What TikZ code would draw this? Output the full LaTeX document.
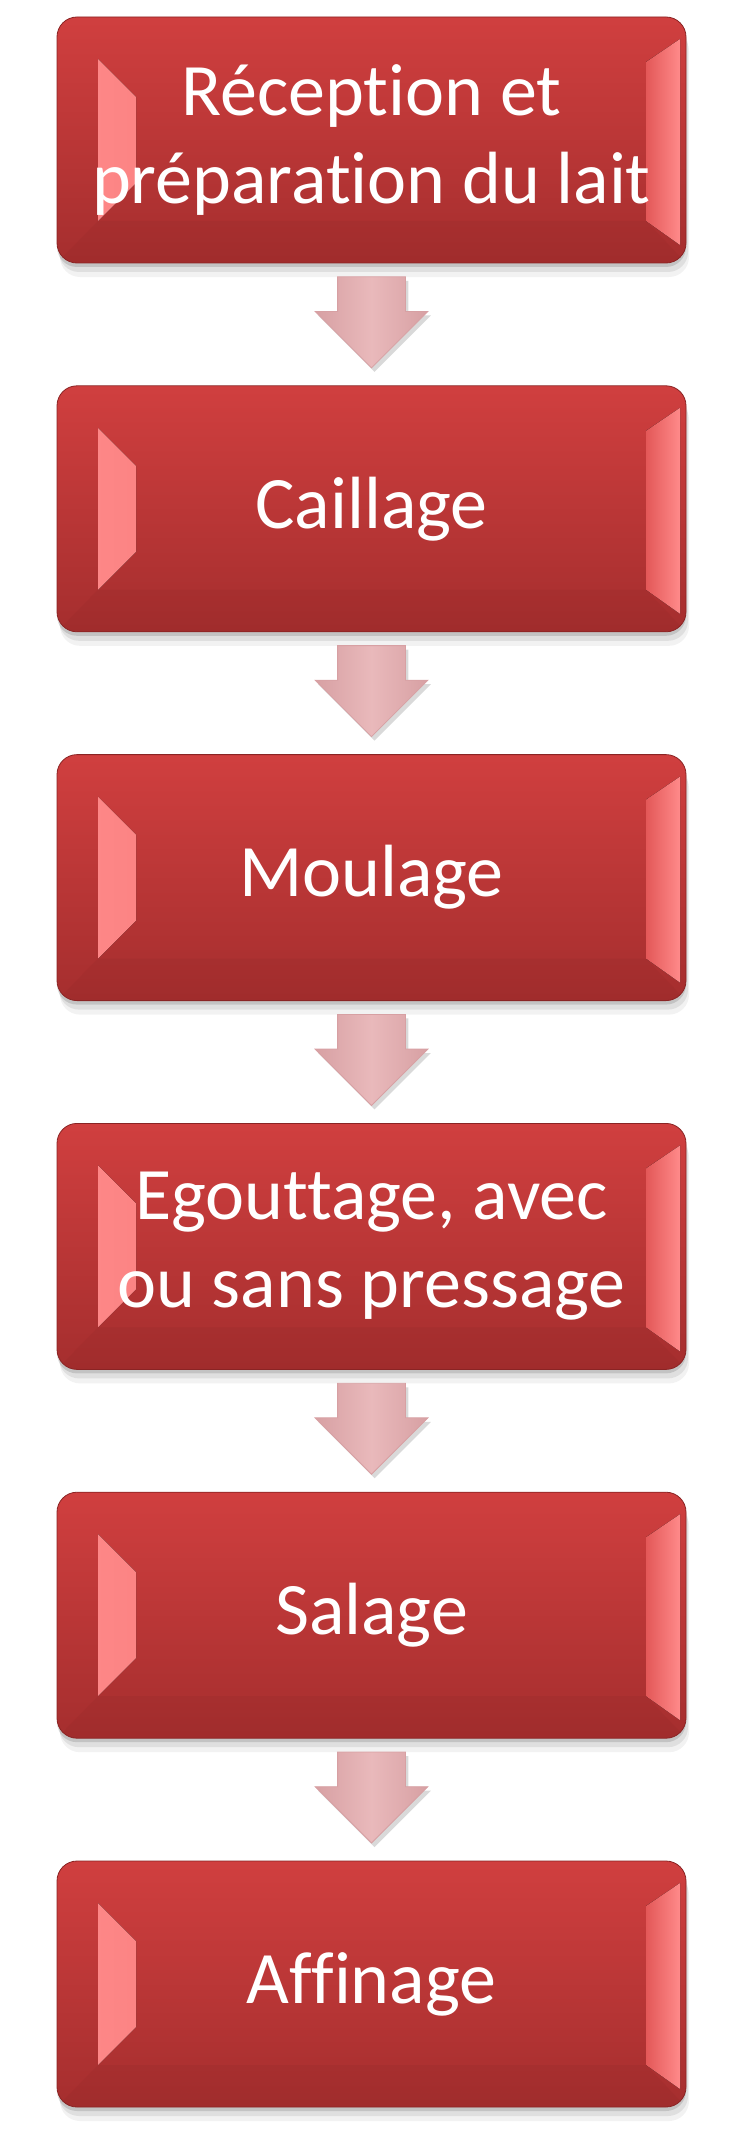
\documentclass[tikz,border=0pt]{standalone}
\usepackage{fontspec}
\setmainfont[Ligatures=CommonOff]{Carlito}
\usetikzlibrary{positioning,shadows,shapes.arrows,calc}
\definecolor{rougeHaut}{HTML}{D03F3F}
\definecolor{rougeBas}{HTML}{A52E2E}
\definecolor{rougeBord}{HTML}{8A2424}
\definecolor{roseVif}{HTML}{FF8A8A}
\definecolor{roseBord}{HTML}{E35858}
\definecolor{roseFleche}{HTML}{E9B9BB}
\definecolor{roseFlecheBord}{HTML}{D7A0A3}

\begin{document}
\begin{tikzpicture}[x=1pt,y=1pt]
\tikzstyle{etape}=[rectangle, rounded corners=20pt, minimum width=629pt, minimum height=246pt,
  inner sep=0pt, top color=rougeHaut, bottom color=rougeBas, draw=rougeBord, line width=.8pt,
  text=white, align=center, font=\fontsize{74}{88}\selectfont,
  drop shadow={shadow xshift=0pt, shadow yshift=-4pt, opacity=.12, fill=black},
  drop shadow={shadow xshift=2pt, shadow yshift=-9pt, opacity=.08, fill=black},
  drop shadow={shadow xshift=3pt, shadow yshift=-14pt, opacity=.05, fill=black},
  path picture={
    \fill[sharp corners, left color=roseVif, right color=roseBord]
      ([shift={(41pt,-42pt)}]path picture bounding box.north west) --
      ([shift={(79pt,-80pt)}]path picture bounding box.north west) --
      ([shift={(79pt,80pt)}]path picture bounding box.south west) --
      ([shift={(41pt,42pt)}]path picture bounding box.south west) -- cycle;
    \fill[sharp corners, left color=roseBord, right color=roseVif]
      ([shift={(-6pt,-22pt)}]path picture bounding box.north east) --
      ([shift={(-40pt,-45pt)}]path picture bounding box.north east) --
      ([shift={(-40pt,42pt)}]path picture bounding box.south east) --
      ([shift={(-6pt,18pt)}]path picture bounding box.south east) -- cycle;
    \fill[sharp corners, rougeBord, opacity=.15]
      (path picture bounding box.south west) --
      ([shift={(41pt,42pt)}]path picture bounding box.south west) --
      ([shift={(-40pt,42pt)}]path picture bounding box.south east) --
      (path picture bounding box.south east) -- cycle;
  }]
\tikzstyle{fleche}=[single arrow, shape border rotate=270, minimum height=91pt, text width=67pt,
  single arrow head extend=22.5pt, inner sep=0pt, anchor=tip, left color=roseFlecheBord,
  right color=roseFlecheBord, middle color=roseFleche, draw=roseFlecheBord, line width=.8pt,
  drop shadow={shadow xshift=3pt, shadow yshift=-4pt, opacity=.15, fill=black}]
\useasboundingbox (0,0) rectangle (747,-2151);

\node (recep) [etape] at (371.5,-140) {Réception et\\préparation du lait};
\node (caill) [etape, below=122pt of recep] {Caillage};
\node (moul) [etape, below=122pt of caill] {Moulage};
\node (egout) [etape, below=122pt of moul] {Egouttage, avec\\ou sans pressage};
\node (sal) [etape, below=122pt of egout] {Salage};
\node (affin) [etape, below=122pt of sal] {Affinage};

\node (f1) [fleche] at ([yshift=17pt]caill.north) {};
\node (f2) [fleche] at ([yshift=17pt]moul.north) {};
\node (f3) [fleche] at ([yshift=17pt]egout.north) {};
\node (f4) [fleche] at ([yshift=17pt]sal.north) {};
\node (f5) [fleche] at ([yshift=17pt]affin.north) {};
\end{tikzpicture}
\end{document}
